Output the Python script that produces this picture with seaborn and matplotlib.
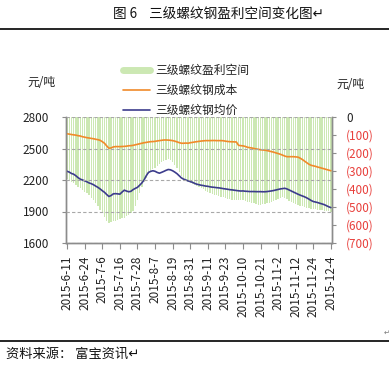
import numpy as np
import pandas as pd
import matplotlib
matplotlib.use('Agg')
import matplotlib.pyplot as plt
import seaborn as sns
from matplotlib.lines import Line2D

sns.set_style('white')
plt.rcParams['font.family'] = ['Noto Sans CJK SC', 'DejaVu Sans']
plt.rcParams['axes.unicode_minus'] = False

# ---------------- data ----------------
tick_labels = ['2015-6-11', '2015-6-24', '2015-7-6', '2015-7-16', '2015-7-28',
               '2015-8-7', '2015-8-19', '2015-8-31', '2015-9-11', '2015-9-23',
               '2015-10-10', '2015-10-21', '2015-11-2', '2015-11-12',
               '2015-11-24', '2015-12-4']

price = [2283, 2275, 2262, 2255, 2240, 2222, 2208, 2200, 2192, 2183,
         2172, 2165, 2155, 2142, 2130, 2115, 2098, 2083, 2062, 2043,
         2052, 2068, 2070, 2068, 2065, 2085, 2103, 2095, 2088, 2092,
         2108, 2120, 2130, 2150, 2172, 2200, 2240, 2272, 2282, 2288,
         2283, 2272, 2265, 2273, 2282, 2292, 2300, 2297, 2288, 2275,
         2260, 2240, 2220, 2208, 2200, 2192, 2185, 2178, 2168, 2160,
         2155, 2150, 2147, 2142, 2140, 2135, 2132, 2130, 2127, 2125,
         2122, 2118, 2115, 2112, 2108, 2106, 2103, 2100, 2097, 2095,
         2096, 2093, 2092, 2090, 2090, 2090, 2089, 2089, 2089, 2088,
         2088, 2090, 2093, 2096, 2100, 2105, 2110, 2115, 2118, 2121,
         2115, 2105, 2095, 2085, 2075, 2065, 2056, 2048, 2040, 2030,
         2018, 2005, 1995, 1990, 1985, 1978, 1972, 1965, 1955, 1945,
         1937]

cost = [2640, 2637, 2633, 2630, 2627, 2622, 2619, 2612, 2608, 2603,
        2600, 2596, 2593, 2588, 2584, 2578, 2565, 2550, 2525, 2503,
        2505, 2515, 2518, 2518, 2518, 2519, 2520, 2522, 2526, 2527,
        2530, 2535, 2540, 2545, 2550, 2555, 2558, 2562, 2565, 2566,
        2568, 2572, 2575, 2578, 2581, 2581, 2580, 2578, 2575, 2570,
        2563, 2556, 2550, 2550, 2552, 2550, 2555, 2558, 2562, 2565,
        2568, 2571, 2573, 2575, 2575, 2575, 2576, 2576, 2575, 2575,
        2575, 2574, 2570, 2567, 2565, 2564, 2563, 2562, 2530, 2527,
        2525, 2520, 2512, 2508, 2505, 2500, 2496, 2492, 2488, 2486,
        2484, 2480, 2475, 2470, 2465, 2458, 2452, 2445, 2437, 2428,
        2422, 2422, 2422, 2422, 2420, 2418, 2408, 2395, 2380, 2365,
        2350, 2340, 2335, 2330, 2323, 2318, 2312, 2306, 2300, 2294,
        2288]

profit = [-345, -352, -360, -368, -378, -387, -395, -405, -415, -424,
          -433, -448, -462, -478, -495, -515, -535, -555, -575, -590,
          -585, -578, -580, -572, -568, -563, -560, -552, -545, -535,
          -522, -495, -460, -420, -390, -362, -340, -318, -300, -290,
          -282, -272, -262, -252, -245, -238, -235, -240, -252, -266,
          -285, -308, -330, -340, -350, -360, -368, -373, -378, -383,
          -387, -395, -402, -410, -417, -424, -428, -432, -436, -440,
          -443, -447, -451, -455, -458, -461, -462, -460, -463, -461,
          -461, -465, -470, -474, -478, -480, -484, -487, -489, -486,
          -483, -480, -475, -470, -465, -460, -454, -448, -443, -450,
          -458, -465, -472, -478, -484, -489, -493, -497, -500, -504,
          -507, -509, -511, -513, -515, -517, -519, -520, -522, -524,
          -525]

series_names = ['三级螺纹盈利空间', '三级螺纹钢成本', '三级螺纹钢均价']
left_ticks = [1600, 1900, 2200, 2500, 2800]
right_ticks = [-700, -600, -500, -400, -300, -200, -100, 0]
right_labels = ['(700)', '(600)', '(500)', '(400)', '(300)', '(200)', '(100)', '0']

# ---------------- style ----------------
W, H = 389, 368
green = '#cce8b3'
orange = '#f08a2a'
navy = '#3c3c8c'
spine_c = '#8c8c8c'
txt_c = '#222222'
red_c = '#e8403c'

df = pd.DataFrame({'i': list(range(len(price))), 'profit': profit,
                   'price': price, 'cost': cost})

fig = plt.figure(figsize=(W / 100, H / 100), dpi=100)
ax = fig.add_axes([66 / W, 1 - 243 / H, (332 - 66) / W, (243 - 117) / H])

# bars (right axis)
sns.barplot(data=df, x='i', y='profit', color=green, width=0.6,
            saturation=1, linewidth=0, ax=ax)
ax.set_ylim(-700, 0)

# lines (left axis)
ax2 = ax.twinx()
sns.lineplot(data=df, x='i', y='cost', color=orange, lw=1.2, ax=ax2)
sns.lineplot(data=df, x='i', y='price', color=navy, lw=1.2, ax=ax2)
ax2.set_ylim(1600, 2800)
ax.set_xlim(-0.5, len(price) - 0.5)
ax2.set_xlim(-0.5, len(price) - 0.5)

for a in (ax, ax2):
    a.set_xlabel('')
    a.set_ylabel('')
    a.spines['top'].set_visible(False)
    for s in ('left', 'right', 'bottom'):
        a.spines[s].set_color(spine_c)
        a.spines[s].set_linewidth(1.0)

# axis sides
ax.yaxis.set_ticks_position('right')
ax2.yaxis.set_ticks_position('left')

ax.set_yticks(right_ticks)
ax.set_yticklabels(right_labels)
ax.tick_params(axis='y', right=True, left=False, labelright=True, labelleft=False,
               direction='out', length=3, color=spine_c, pad=7, labelsize=8.5)
for lbl, t in zip(ax.get_yticklabels(), right_ticks):
    lbl.set_color(txt_c if t == 0 else red_c)

ax2.set_yticks(left_ticks)
ax2.set_yticklabels([str(t) for t in left_ticks])
ax2.tick_params(axis='y', left=True, right=False, labelleft=True, labelright=False,
                direction='out', length=3, color=spine_c, pad=9, labelsize=8.5,
                labelcolor=txt_c)
ax2.yaxis.grid(True, linestyle=(0, (3, 2)), color='#a8a8a8', lw=0.8)
ax2.set_axisbelow(False)

ax.set_xticks(list(range(0, len(price), 8)))
ax.set_xticklabels(tick_labels, rotation=90)
ax.tick_params(axis='x', bottom=True, direction='out', length=4, color=spine_c,
               pad=5, labelsize=8.5, labelcolor=txt_c)

# unit labels
fig.text(41 / W, 1 - 83 / H, '元/吨', ha='center', va='center', fontsize=8.5, color=txt_c)
fig.text(350 / W, 1 - 84 / H, '元/吨', ha='center', va='center', fontsize=8.5, color=txt_c)

# legend
handles = [Line2D([], [], color=green, lw=5),
           Line2D([], [], color=orange, lw=1.2),
           Line2D([], [], color=navy, lw=1.2)]
fig.legend(handles, series_names, loc='upper left',
           bbox_to_anchor=(123 / W, 1 - 64 / H), frameon=False, fontsize=8.5,
           handlelength=2.3, handletextpad=0.4, labelspacing=0.6,
           borderaxespad=0, borderpad=0, labelcolor=txt_c)

# title and source
fig.text(113 / W, 1 - 14 / H, '图 6    三级螺纹钢盈利空间变化图↵', ha='left', va='center',
         fontsize=9.8, color='#111111')
fig.add_artist(Line2D([0, 1], [1 - 29 / H, 1 - 29 / H], color='black', lw=1.2,
                      transform=fig.transFigure))
fig.add_artist(Line2D([0, 1], [1 - 341 / H, 1 - 341 / H], color='black', lw=1.2,
                      transform=fig.transFigure))
fig.text(6 / W, 1 - 354 / H, '资料来源： 富宝资讯↵', ha='left', va='center',
         fontsize=9.5, color='#111111')
fig.text(384 / W, 1 - 333 / H, '↵', ha='left', va='center', fontsize=5,
         color='#777777', family=['DejaVu Sans'])

fig.savefig('out.png', dpi=100)
